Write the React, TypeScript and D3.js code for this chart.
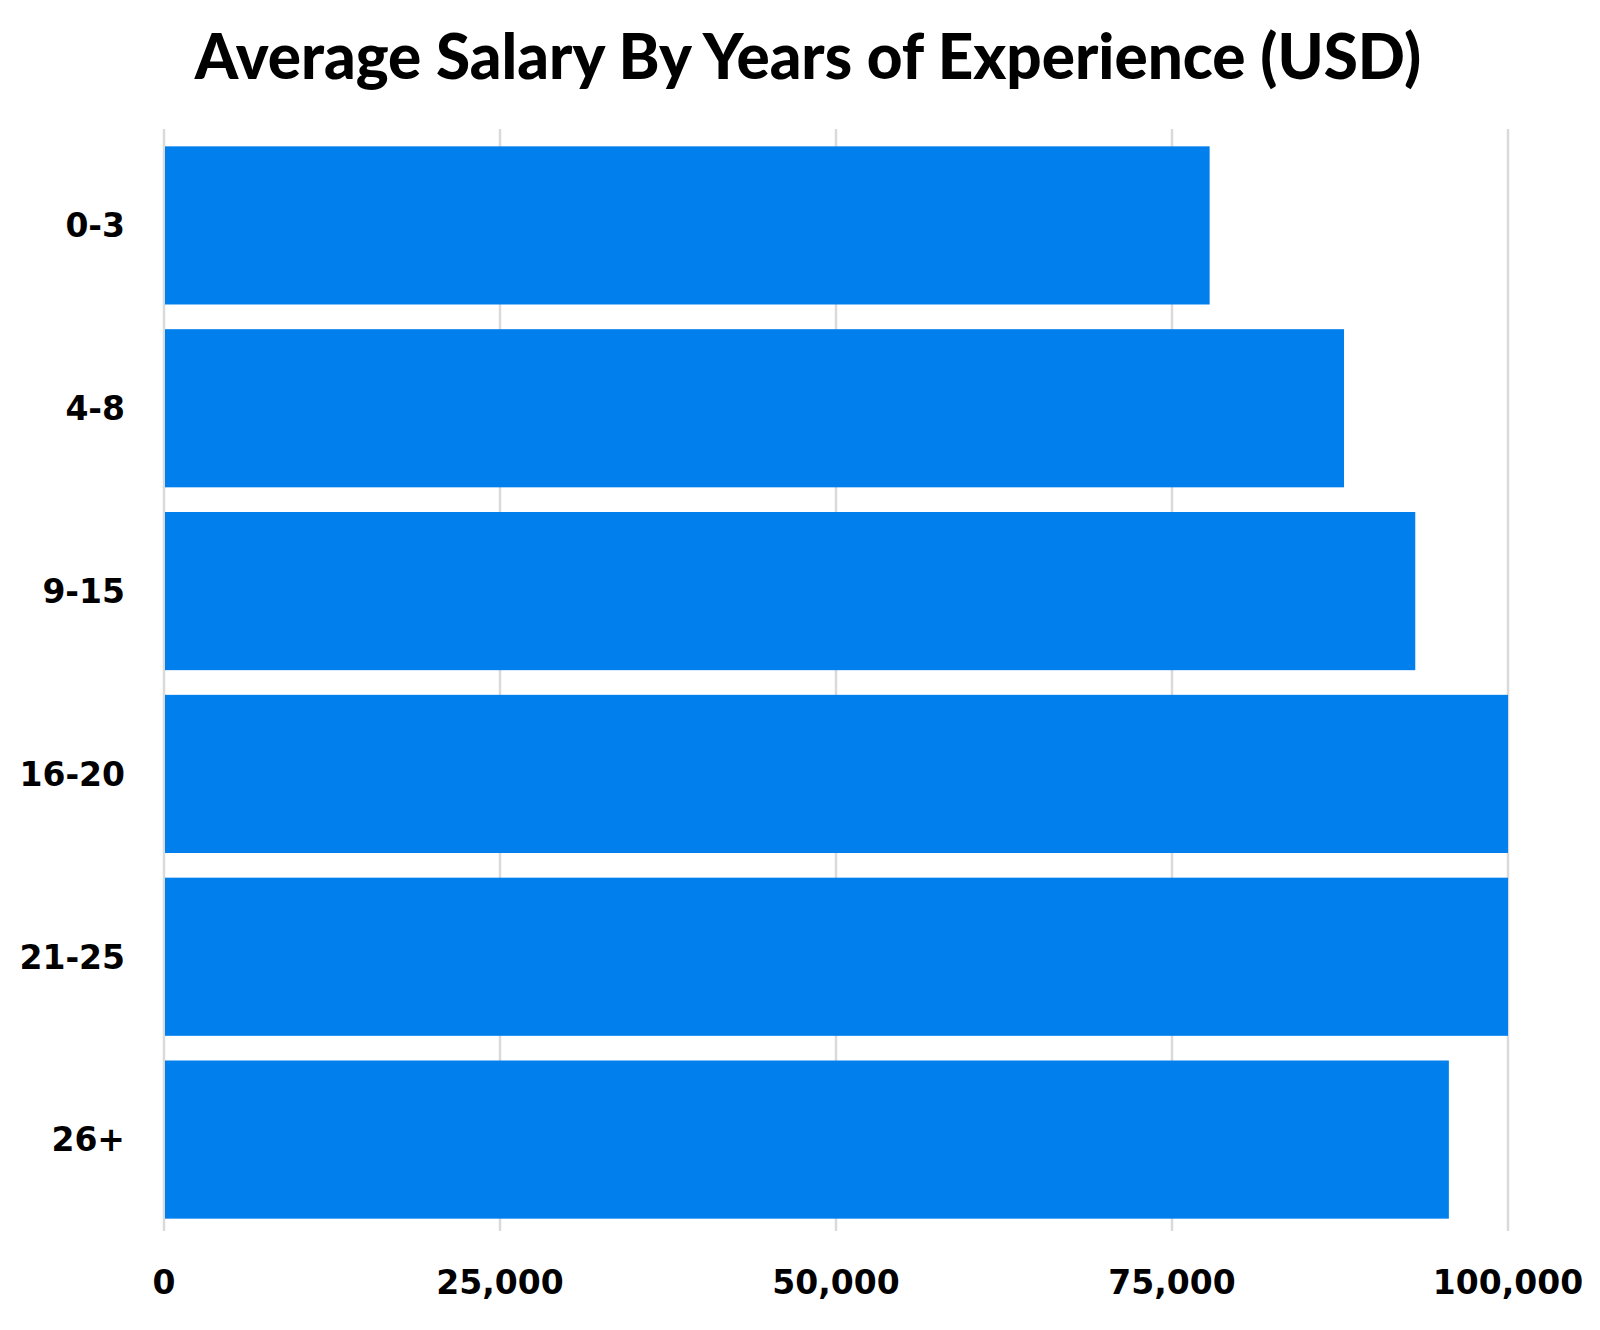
import * as d3 from "d3";
import { useEffect, useRef } from "react";

const title = "Average Salary By Years of Experience (USD)";
const categories = ["0-3", "4-8", "9-15", "16-20", "21-25", "26+"];
const salaries = [77800, 87800, 93100, 101200, 101600, 95600];
const xTicks = [0, 25000, 50000, 75000, 100000];

const App: React.FC = () => {
  const chartRef = useRef<HTMLDivElement | null>(null);

  useEffect(() => {
    document.body.style.margin = "0";
    const width = 1600;
    const height = 1330;
    const font = "'DejaVu Sans', sans-serif";

    d3.select(chartRef.current).selectAll("*").remove();

    const svg = d3
      .select(chartRef.current)
      .append("svg")
      .attr("width", width)
      .attr("height", height)
      .style("display", "block")
      .style("background", "#fff");

    const xScale = d3
      .scaleLinear()
      .domain([0, 100000])
      .range([164, 1508])
      .clamp(true);

    const yScale = d3
      .scaleBand()
      .domain(categories)
      .range([134, 1231])
      .paddingInner(0.135)
      .paddingOuter(0.0675);

    // gridlines
    svg
      .append("g")
      .selectAll("line")
      .data(xTicks)
      .enter()
      .append("line")
      .attr("x1", (d) => xScale(d))
      .attr("x2", (d) => xScale(d))
      .attr("y1", 129)
      .attr("y2", 1231)
      .attr("stroke", "#dadada")
      .attr("stroke-width", 2.5);

    svg
      .append("g")
      .selectAll("rect")
      .data(categories.map((c, i) => ({ c, v: salaries[i] })))
      .enter()
      .append("rect")
      .attr("x", xScale(0) + 1)
      .attr("y", (d) => yScale(d.c)!)
      .attr("width", (d) => xScale(d.v) - xScale(0) - 1)
      .attr("height", yScale.bandwidth())
      .attr("fill", "#007fed");

    // x tick labels
    svg
      .append("g")
      .selectAll("text")
      .data(xTicks)
      .enter()
      .append("text")
      .attr("x", (d) => xScale(d))
      .attr("y", 1282)
      .attr("dy", "0.36em")
      .attr("text-anchor", "middle")
      .attr("font-family", font)
      .attr("font-weight", "bold")
      .attr("font-size", 33)
      .attr("fill", "#000")
      .text((d) => d3.format(",")(d));

    // y labels
    svg
      .append("g")
      .selectAll("text")
      .data(categories)
      .enter()
      .append("text")
      .attr("x", 125)
      .attr("y", (d) => yScale(d)! + yScale.bandwidth() / 2)
      .attr("dy", "0.36em")
      .attr("text-anchor", "end")
      .attr("font-family", font)
      .attr("font-weight", "bold")
      .attr("font-size", 33)
      .attr("fill", "#000")
      .text((d) => d);

    svg
      .append("text")
      .attr("x", 808)
      .attr("y", 79)
      .attr("text-anchor", "middle")
      .attr("font-family", "Lato, 'DejaVu Sans', sans-serif")
      .attr("font-weight", 900)
      .attr("font-size", 62)
      .attr("fill", "#000")
      .text(title);
  }, []);

  return <div ref={chartRef} id="salary-chart"></div>;
};

export default App;
